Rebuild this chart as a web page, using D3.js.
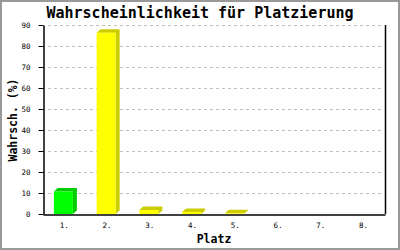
<!DOCTYPE html>
<html>
<head>
<meta charset="utf-8">
<script src="https://cdn.jsdelivr.net/npm/d3@7"></script>
<style>
  body { margin: 0; background: #fff; }
  svg { display: block; }
</style>
</head>
<body>
<div id="chart"></div>
<script>
const places = ['1.', '2.', '3.', '4.', '5.', '6.', '7.', '8.'];
const probs = [10.7, 86.3, 1.9, 1.0, 0.3, 0, 0, 0];
const yTicks = [0, 10, 20, 30, 40, 50, 60, 70, 80, 90];

const width = 400;
const height = 250;
const margin = { left: 43, right: 15, top: 25, bottom: 36 };
const depth = { dx: 4, dy: 3.5 };
const mono = "'DejaVu Sans Mono', 'Liberation Mono', monospace";

const svg = d3.select('#chart').append('svg')
  .attr('width', width)
  .attr('height', height);

svg.append('rect')
  .attr('x', 1).attr('y', 1)
  .attr('width', width - 2).attr('height', height - 2)
  .attr('fill', '#fff')
  .attr('stroke', '#999')
  .attr('stroke-width', 2);

const x = d3.scaleBand()
  .domain(places)
  .range([margin.left, width - margin.right]);

const y = d3.scaleLinear()
  .domain([0, 90])
  .range([height - margin.bottom, margin.top]);

// gridlines
svg.append('g')
  .selectAll('line')
  .data(yTicks.filter((d) => d > 0))
  .enter()
  .append('line')
  .attr('x1', margin.left + 5)
  .attr('x2', width - margin.right - 2)
  .attr('y1', (d) => y(d) + 0.5)
  .attr('y2', (d) => y(d) + 0.5)
  .attr('stroke', '#c0c0c0')
  .attr('stroke-dasharray', '3,3');

// bars (front, top, side)
const barW = 19;
const bars = svg.append('g')
  .selectAll('g')
  .data(places.map((p, i) => ({ place: p, value: probs[i], i })).filter((d) => d.value > 0))
  .enter()
  .append('g');

const front = (d) => x(d.place) + x.bandwidth() / 2 - barW / 2 - 1;
const colors = (d) => (d.i === 0
  ? { face: '#00ff00', side: '#00cc00' }
  : { face: '#ffff00', side: '#cccc00' });

bars.append('path')
  .attr('fill', (d) => colors(d).side)
  .attr('d', (d) => {
    const x0 = front(d);
    const x1 = x0 + barW;
    const yt = y(d.value);
    const yb = y(0);
    return `M${x0},${yt}L${x0 + depth.dx},${yt - depth.dy}L${x1 + depth.dx},${yt - depth.dy}`
      + `L${x1 + depth.dx},${yb - depth.dy}L${x1},${yb}L${x1},${yt}Z`;
  });

bars.append('rect')
  .attr('x', front)
  .attr('y', (d) => y(d.value))
  .attr('width', barW)
  .attr('height', (d) => y(0) - y(d.value))
  .attr('fill', (d) => colors(d).face);

// y axis
const yAxis = svg.append('g')
  .attr('transform', `translate(${margin.left + 0.5},0)`)
  .call(d3.axisLeft(y).tickValues(yTicks).tickSize(5).tickPadding(8).tickSizeOuter(0));
yAxis.select('.domain').attr('stroke', '#000').attr('stroke-width', 1.5);
yAxis.selectAll('.tick line').attr('stroke', '#000');
yAxis.selectAll('text')
  .style('font-family', mono)
  .style('font-size', '7.5px')
  .attr('fill', '#000');

// x axis
const xAxis = svg.append('g')
  .attr('transform', `translate(0,${y(0) + 0.5})`)
  .call(d3.axisBottom(x).tickSize(0).tickPadding(8));
xAxis.select('.domain').attr('stroke', '#000').attr('stroke-width', 1.5);
xAxis.selectAll('text')
  .style('font-family', mono)
  .style('font-size', '7.5px')
  .attr('fill', '#000');

// right frame line
svg.append('line')
  .attr('x1', width - margin.right + 0.5)
  .attr('x2', width - margin.right + 0.5)
  .attr('y1', margin.top)
  .attr('y2', y(0))
  .attr('stroke', '#000')
  .attr('stroke-width', 1.5);

// title + axis labels
svg.append('text')
  .attr('x', 200)
  .attr('y', 18)
  .attr('text-anchor', 'middle')
  .style('font-family', mono)
  .style('font-size', '15px')
  .style('font-weight', 'bold')
  .text('Wahrscheinlichkeit für Platzierung');

svg.append('text')
  .attr('x', (margin.left + width - margin.right) / 2)
  .attr('y', 243)
  .attr('text-anchor', 'middle')
  .style('font-family', mono)
  .style('font-size', '11.5px')
  .style('font-weight', 'bold')
  .text('Platz');

svg.append('text')
  .attr('transform', 'translate(17,120) rotate(-90)')
  .attr('text-anchor', 'middle')
  .style('font-family', mono)
  .style('font-size', '11.5px')
  .style('font-weight', 'bold')
  .text('Wahrsch. (%)');
</script>
</body>
</html>
